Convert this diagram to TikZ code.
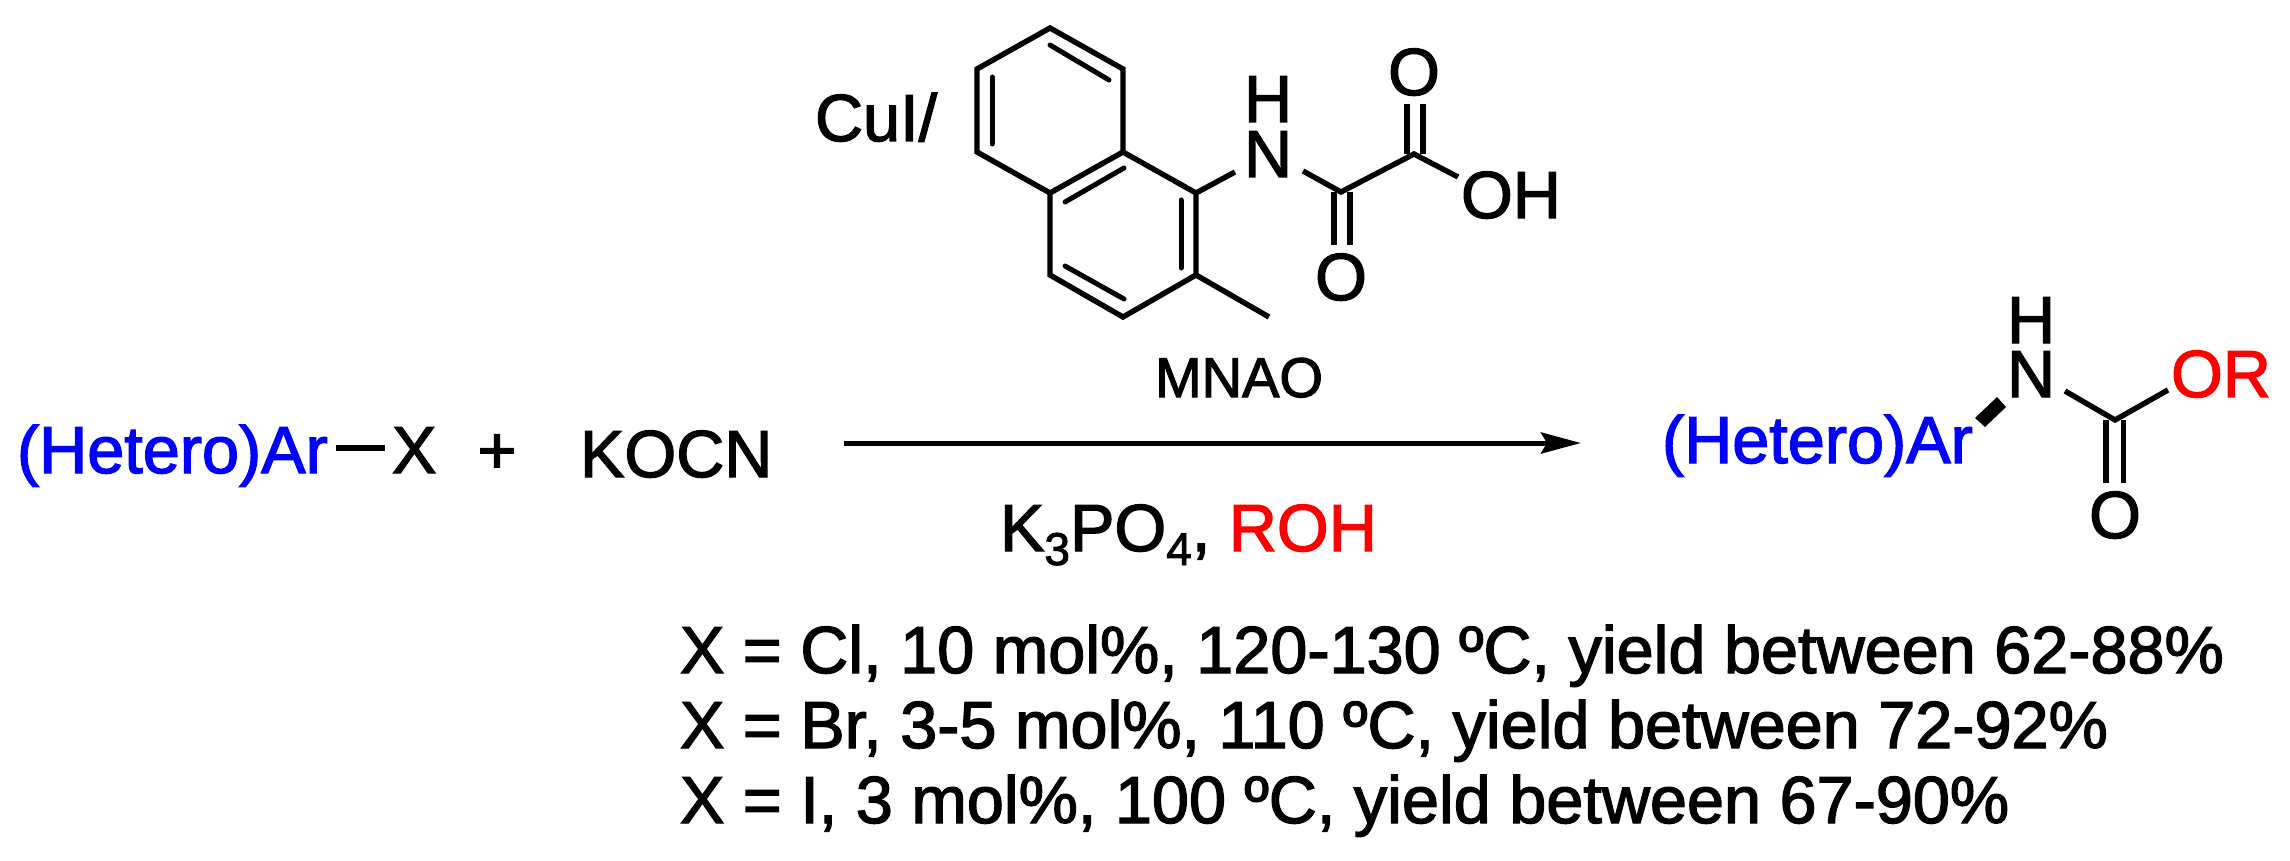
\documentclass[tikz,border=0pt]{standalone}
\usepackage{fontspec}
\setmainfont{Liberation Sans}
\newfontfamily\heavy[FakeBold=2]{Liberation Sans}
\usetikzlibrary{arrows.meta}
\definecolor{hetblue}{RGB}{0,0,255}
\definecolor{rored}{RGB}{255,0,0}
\tikzset{
  txt/.style={inner sep=0pt,outer sep=0pt,anchor=base west,font=\fontsize{33.3}{33.3}\heavy\selectfont},
  atom/.style={txt,anchor=base},
  bond/.style={line width=2.7pt,line cap=butt,line join=miter,black},
  inner bond/.style={line width=2.5pt,line cap=round,black},
  rxn arrow/.style={line width=2.5pt,-{Stealth[length=20pt,width=10.5pt,inset=3pt]}}
}
\newcommand{\subsc}[1]{\raisebox{-7pt}{\fontsize{23}{23}\heavy\selectfont #1}}
\begin{document}
\begin{tikzpicture}[x=0.5pt,y=-0.5pt]
\path[use as bounding box,fill=white] (0,0) rectangle (2290,861);
% reactant
\node[txt,text=hetblue] (ar1) at (17,473) {(Hetero)Ar};
\node[txt] (x1) at (392,473) {X};
\coordinate (d1) at (336,448);
\coordinate (d2) at (385,448);
\draw[bond] (d1) -- (d2);
\node[atom] (plus) at (497,473) {+};
\node[txt] (kocn) at (580,477) {KOCN};
% arrow
\coordinate (arrS) at (844,443);
\coordinate (arrE) at (1581,443);
\draw[rxn arrow] (arrS) -- (arrE);
% catalyst
\node[txt] (cui) at (815,141) {CuI/};
\coordinate (A) at (1050,28);
\coordinate (B) at (1123,69);
\coordinate (C) at (1123,152);
\coordinate (D) at (1196,193);
\coordinate (E) at (1196,275);
\coordinate (F) at (1123,317);
\coordinate (G) at (1050,275);
\coordinate (H) at (1050,193);
\coordinate (I) at (977,152);
\coordinate (J) at (977,69);
\coordinate (Me) at (1269,317);
\draw[bond] (A) -- (B) -- (C) -- (H) -- (I) -- (J) -- cycle;
\draw[bond] (C) -- (D) -- (E) -- (F) -- (G) -- (H);
\draw[bond] (E) -- (Me);
\draw[inner bond] (1050,45) -- (1109,80);
\draw[inner bond] (992,77) -- (992,144);
\draw[inner bond] (1124,168) -- (1065,202);
\draw[inner bond] (1181,200) -- (1181,268);
\draw[inner bond] (1065,266) -- (1124,299);
\node[atom] (nH) at (1268,122) {H};
\node[atom] (nN) at (1268,177) {N};
\coordinate (Nl) at (1235,172);
\coordinate (Nr) at (1303,171);
\coordinate (C1) at (1341,192);
\coordinate (C2) at (1414,154);
\coordinate (OHb) at (1458,177);
\draw[bond] (D) -- (Nl);
\draw[bond] (Nr) -- (C1) -- (C2) -- (OHb);
\draw[bond] (1334,192) -- (1334,245);
\draw[bond] (1350,192) -- (1350,245);
\draw[bond] (1407,154) -- (1407,104);
\draw[bond] (1423,154) -- (1423,104);
\node[atom] (o1) at (1414,95) {O};
\node[atom] (o2) at (1341,300) {O};
\node[txt] (oh) at (1461,218) {OH};
\node[txt,font=\fontsize{28}{28}\heavy\selectfont] (mnao) at (1155,397) {MNAO};
% under arrow
\node[txt] (base) at (1000,551) {K\subsc{3}PO\subsc{4}, \textcolor{rored}{ROH}};
\node[txt] (l1) at (680,673) {X = Cl, 10 mol\%, 120-130 ºC, yield between 62-88\%};
\node[txt] (l2) at (680,748) {X = Br, 3-5 mol\%, 110 ºC, yield between 72-92\%};
\node[txt] (l3) at (680,823) {X = I, 3 mol\%, 100 ºC, yield between 67-90\%};
% product
\node[txt,text=hetblue] (ar2) at (1662,463) {(Hetero)Ar};
\node[atom] (pH) at (2031,343) {H};
\node[atom] (pN) at (2031,397) {N};
\node[txt,text=rored] (or) at (2171,397) {OR};
\node[atom] (pO) at (2115,538) {O};
\coordinate (w1) at (1975,418);
\coordinate (w2) at (1985,427);
\coordinate (w3) at (2006,407);
\coordinate (w4) at (1997,397);
\fill (w1) -- (w2) -- (w3) -- (w4) -- cycle;
\coordinate (pNr) at (2065,391);
\coordinate (pC) at (2115,420);
\coordinate (pOR) at (2168,390);
\draw[bond] (pNr) -- (pC) -- (pOR);
\draw[bond] (2106,420) -- (2106,483);
\draw[bond] (2123.5,420) -- (2123.5,483);
\end{tikzpicture}
\end{document}
